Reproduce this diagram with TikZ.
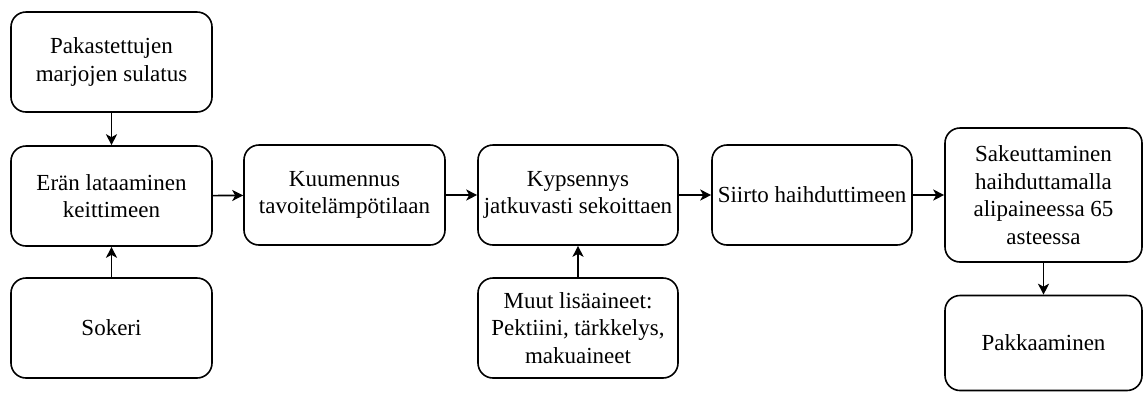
\documentclass[tikz,border=0pt]{standalone}
\usepackage{fontspec}
\setmainfont{Liberation Serif}
\newfontfamily\tms{Liberation Serif}
\usetikzlibrary{arrows.meta}
\begin{document}
\begin{tikzpicture}[x=1pt,y=-1pt,
  box/.style={draw=black,line width=1.6pt,rounded corners=15pt,align=center,inner sep=0pt,
    font=\tms\fontsize{23}{27.5}\selectfont},
  conn/.style={line width=1.6pt,-{Stealth[length=11pt,width=11pt,inset=3pt]}}]
\useasboundingbox (0,0) rectangle (1144,392);
\node[box,minimum width=201pt,minimum height=100pt] (pak) at (111.5,62) {Pakastettujen\\marjojen sulatus};
\node[box,minimum width=201pt,minimum height=100pt] (eran) at (111.5,196) {Erän lataaminen\\keittimeen};
\node[box,minimum width=201pt,minimum height=100pt] (sok) at (111.5,328) {Sokeri};
\node[box,minimum width=201pt,minimum height=100pt] (kuu) at (344.5,195) {Kuumennus\\tavoitelämpötilaan};
\node[box,minimum width=200pt,minimum height=100pt] (kyp) at (578,195) {Kypsennys\\jatkuvasti sekoittaen};
\node[box,minimum width=200pt,minimum height=100pt] (muut) at (578,328) {Muut lisäaineet:\\Pektiini, tärkkelys,\\makuaineet};
\node[box,minimum width=200pt,minimum height=100pt] (siirto) at (812,195) {Siirto haihduttimeen};
\node[box,minimum width=197pt,minimum height=134pt] (sak) at (1043.5,195) {Sakeuttaminen\\haihduttamalla\\alipaineessa 65\\asteessa};
\node[box,minimum width=197pt,minimum height=95pt] (pakk) at (1043.5,343) {Pakkaaminen};
\draw[conn] (pak) -- (eran);
\draw[conn] (sok) -- (eran);
\draw[conn] (eran) -- (kuu);
\draw[conn] (kuu) -- (kyp);
\draw[conn] (kyp) -- (siirto);
\draw[conn] (muut) -- (kyp);
\draw[conn] (siirto) -- (sak);
\draw[conn] (sak) -- (pakk);
\end{tikzpicture}
\end{document}
